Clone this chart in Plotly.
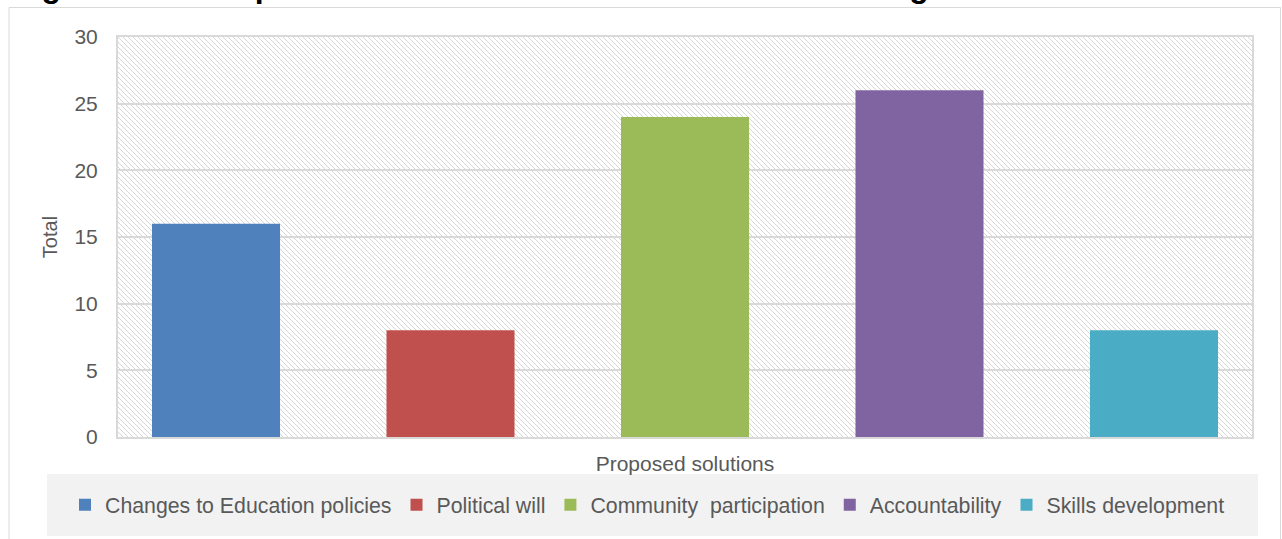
import base64
import plotly.graph_objects as go

# Survey responses: proposed solutions to basic education challenges
group_label = "Proposed solutions"
solutions = [
    "Changes to Education policies",
    "Political will",
    "Community  participation",
    "Accountability",
    "Skills development",
]
totals = [16, 8, 24, 26, 8]
colors = ["#4f81bd", "#c0504d", "#9bbb59", "#8064a2", "#4bacc6"]
y_ticks = [0, 5, 10, 15, 20, 25, 30]

FONT = "Liberation Sans, Arial, sans-serif"
TEXT_GRAY = "#595959"
GRID = "#d9d9d9"

W, H = 1282, 539
M_L, M_R, M_T, M_B = 118, 30, 37, 102
PW, PH = W - M_L - M_R, H - M_T - M_B

# Diagonal hatch used as the plot-area background
tile = 5
hatch_svg = f"""<svg xmlns='http://www.w3.org/2000/svg' width='{PW}' height='{PH}'>
<defs><pattern id='h' patternUnits='userSpaceOnUse' width='{tile}' height='{tile}'>
<path d='M0,0 L{tile},{tile} M-1,{tile-1} L1,{tile+1} M{tile-1},-1 L{tile+1},1'
 stroke='#d6d6d6' stroke-width='1'/></pattern></defs>
<rect width='100%' height='100%' fill='white'/>
<rect width='100%' height='100%' fill='url(#h)'/></svg>"""
hatch_uri = "data:image/svg+xml;base64," + base64.b64encode(hatch_svg.encode()).decode()

fig = go.Figure()
for name, val, col in zip(solutions, totals, colors):
    fig.add_trace(go.Bar(
        name=name, x=[group_label], y=[val],
        marker=dict(color=col, line=dict(width=0)),
        hoverinfo="name+y",
    ))


def px_x(px):
    return (px - M_L) / PW


def px_y(py):
    return (M_T + PH - py) / PH


fig.update_layout(
    width=W, height=H,
    margin=dict(l=M_L, r=M_R, t=M_T, b=M_B, autoexpand=False),
    paper_bgcolor="white",
    plot_bgcolor="rgba(0,0,0,0)",
    barmode="group",
    bargap=0,
    bargroupgap=0.454,
    font=dict(family=FONT, color=TEXT_GRAY, size=21),
    showlegend=True,
    legend=dict(
        orientation="h", x=px_x(65), xanchor="left",
        y=px_y(505), yanchor="middle",
        bgcolor="rgba(0,0,0,0)",
        font=dict(size=21.3, color=TEXT_GRAY),
        traceorder="normal",
    ),
    xaxis=dict(
        range=[-0.4836, 0.4836],
        showticklabels=False, ticks="",
        showgrid=False, zeroline=False,
        showline=True, mirror=True, linecolor=GRID, linewidth=2,
        title=dict(text="Proposed solutions", standoff=18,
                   font=dict(size=21, color=TEXT_GRAY)),
        fixedrange=True,
    ),
    yaxis=dict(
        range=[0, 30], tickvals=y_ticks, ticks="",
        ticklabelstandoff=14,
        tickfont=dict(size=21, color=TEXT_GRAY),
        showgrid=True, gridcolor=GRID, gridwidth=1.5,
        zeroline=False,
        showline=True, mirror=True, linecolor=GRID, linewidth=2,
        title=dict(text="Total", standoff=11, font=dict(size=20, color=TEXT_GRAY)),
        fixedrange=True,
    ),
    images=[dict(
        source=hatch_uri, xref="paper", yref="paper",
        x=0, y=1, sizex=1, sizey=1, xanchor="left", yanchor="top",
        sizing="stretch", layer="below",
    )],
    shapes=[
        # outer chart frame
        dict(type="rect", xref="paper", yref="paper", layer="below",
             x0=px_x(9), x1=px_x(1280.5), y0=px_y(560), y1=px_y(7.5),
             line=dict(color=GRID, width=1), fillcolor="rgba(0,0,0,0)"),
        # legend band
        dict(type="rect", xref="paper", yref="paper", layer="below",
             x0=px_x(47), x1=px_x(1258), y0=px_y(536), y1=px_y(474),
             line=dict(width=0), fillcolor="#f2f2f2"),
    ],
    annotations=[dict(
        text="<b>Figure 4.10: Proposed solutions to basic education challenges</b>",
        xref="paper", yref="paper", x=px_x(11), y=px_y(-14),
        xanchor="left", yanchor="middle", showarrow=False,
        font=dict(family=FONT, size=32, color="black"),
    )],
)

fig.write_html("out.html", config={"displayModeBar": False})
